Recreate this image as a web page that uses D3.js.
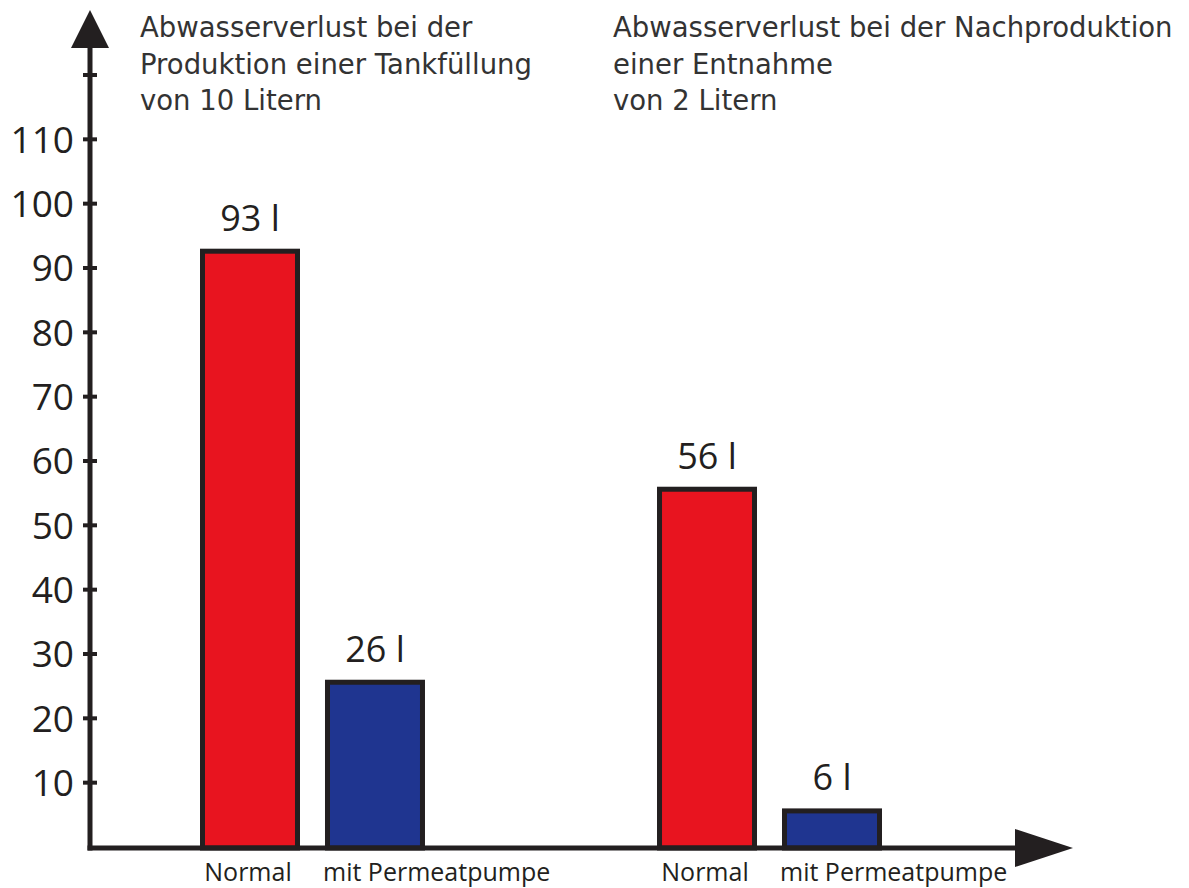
<!DOCTYPE html>
<html>
<head>
<meta charset="utf-8">
<script src="https://cdn.jsdelivr.net/npm/d3@7"></script>
<style>
  body { margin: 0; background: #fff; }
  text { font-family: "Open Sans", sans-serif; fill: #231f20; }
</style>
</head>
<body>
<div id="chart"></div>
<script>
// data
const groups = ["tank", "entnahme"];
const series = ["Normal", "mit Permeatpumpe"];
const valuesNormal = [93, 56];
const valuesPermeat = [26, 6];
const titles = [
  ["Abwasserverlust bei der", "Produktion einer Tankfüllung", "von 10 Litern"],
  ["Abwasserverlust bei der Nachproduktion", "einer Entnahme", "von 2 Litern"]
];
const tickValues = [10, 20, 30, 40, 50, 60, 70, 80, 90, 100, 110, 120];
const tickLabels = ["10", "20", "30", "40", "50", "60", "70", "80", "90", "100", "110", ""];

const colors = { "Normal": "#e8141f", "mit Permeatpumpe": "#1f3590" };
const ink = "#231f20";

const width = 1189, height = 888;
const svg = d3.select("#chart").append("svg")
  .attr("width", width)
  .attr("height", height);

const yScale = d3.scaleLinear().domain([0, 120]).range([847, 75]);
const xGroup = d3.scaleBand().domain(groups).range([200, 882]).paddingInner(0.5077);
const xInner = d3.scaleBand().domain(series).range([0, xGroup.bandwidth()]).paddingInner(0.2);

const data = [];
groups.forEach((g, i) => {
  data.push({ group: g, s: "Normal", v: valuesNormal[i] });
  data.push({ group: g, s: "mit Permeatpumpe", v: valuesPermeat[i] });
});

const axisX = 90, baseY = 848;

// bars
svg.selectAll("rect.bar")
  .data(data)
  .enter()
  .append("rect")
  .attr("class", "bar")
  .attr("x", d => xGroup(d.group) + xInner(d.s) + 2.5)
  .attr("y", d => yScale(d.v) + 2.5)
  .attr("width", xInner.bandwidth() - 5)
  .attr("height", d => baseY - yScale(d.v) - 2.5)
  .attr("fill", d => colors[d.s])
  .attr("stroke", ink)
  .attr("stroke-width", 5);

// value labels
svg.selectAll("text.val")
  .data(data)
  .enter()
  .append("text")
  .attr("class", "val")
  .attr("x", d => xGroup(d.group) + xInner(d.s) + xInner.bandwidth() / 2)
  .attr("y", d => yScale(d.v) - 18)
  .attr("text-anchor", "middle")
  .style("font-size", "36px")
  .text(d => d.v + " l");

// category labels
svg.selectAll("text.cat")
  .data(data)
  .enter()
  .append("text")
  .attr("class", "cat")
  .attr("x", d => d.s === "Normal"
    ? xGroup(d.group) + xInner(d.s) + xInner.bandwidth() / 2 - 2
    : xGroup(d.group) + xInner(d.s) - 2)
  .attr("y", 881)
  .attr("text-anchor", d => d.s === "Normal" ? "middle" : "start")
  .style("font-size", "25px")
  .text(d => d.s);

// y axis
svg.append("line")
  .attr("x1", axisX).attr("x2", axisX)
  .attr("y1", baseY + 2.5).attr("y2", 46)
  .attr("stroke", ink).attr("stroke-width", 5);

svg.append("path")
  .attr("d", `M${axisX - 19},48 L${axisX},10 L${axisX + 19},48 Z`)
  .attr("fill", ink);

const yTicks = svg.append("g");
yTicks.selectAll("line")
  .data(tickValues)
  .enter()
  .append("line")
  .attr("x1", axisX - 7).attr("x2", axisX + 7)
  .attr("y1", d => yScale(d)).attr("y2", d => yScale(d))
  .attr("stroke", ink).attr("stroke-width", 4);

yTicks.selectAll("text")
  .data(tickValues)
  .enter()
  .append("text")
  .attr("x", axisX - 16)
  .attr("y", d => yScale(d))
  .attr("dy", "0.36em")
  .attr("text-anchor", "end")
  .style("font-size", "37px")
  .text((d, i) => tickLabels[i]);

// x axis
svg.append("line")
  .attr("x1", axisX - 2.5).attr("x2", 1020)
  .attr("y1", baseY).attr("y2", baseY)
  .attr("stroke", ink).attr("stroke-width", 5);

svg.append("path")
  .attr("d", `M1015,829 L1073,848 L1015,867 Z`)
  .attr("fill", ink);

// group titles
const titleX = [140, 613];
titles.forEach((lines, i) => {
  const t = svg.append("text")
    .attr("x", titleX[i])
    .attr("y", 37)
    .style("font-family", "'DejaVu Sans', sans-serif")
    .style("font-size", "27.5px")
    .style("fill", "#333");
  lines.forEach((line, j) => {
    t.append("tspan")
      .attr("x", titleX[i])
      .attr("dy", j === 0 ? 0 : 36.5)
      .text(line);
  });
});
</script>
</body>
</html>
